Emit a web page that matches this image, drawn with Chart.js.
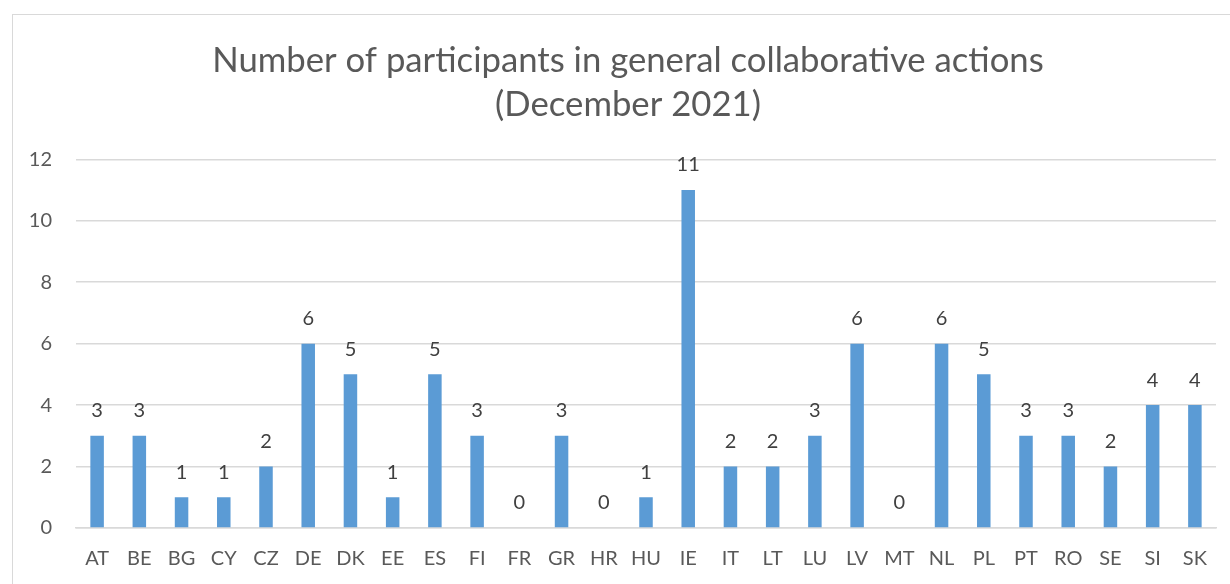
<!DOCTYPE html>
<html>
<head>
    <title>Number of participants</title>
    <script src="https://cdn.jsdelivr.net/npm/chart.js"></script>
    <style>
        body {margin: 0; overflow: hidden; background: #fff;}
        #frame {position: absolute; left: 12px; top: 14px; width: 1300px; height: 700px; border: 1.5px solid #d9d9d9;}
        #chart-container {position: absolute; left: 0; top: 0; width: 1270px; height: 584px;}
    </style>
</head>
<body>
    <div id="frame"></div>
    <div id="chart-container">
        <canvas id="chart" width="1270" height="584"></canvas>
    </div>

<script>
    var countries = ['AT', 'BE', 'BG', 'CY', 'CZ', 'DE', 'DK', 'EE', 'ES', 'FI', 'FR', 'GR', 'HR', 'HU',
                     'IE', 'IT', 'LT', 'LU', 'LV', 'MT', 'NL', 'PL', 'PT', 'RO', 'SE', 'SI', 'SK'];
    var participants = [3, 3, 1, 1, 2, 6, 5, 1, 5, 3, 0, 3, 0, 1, 11, 2, 2, 3, 6, 0, 6, 5, 3, 3, 2, 4, 4];
    var yTicks = [0, 2, 4, 6, 8, 10, 12];
    var titleLines = ['Number of participants in general collaborative actions', '(December 2021)'];

    var fontFamily = 'Lato, "Open Sans", sans-serif';

    // draws the value above each bar (no datalabels plugin offline)
    var valueLabels = {
        id: 'valueLabels',
        afterDatasetsDraw: function(chart) {
            var ctx = chart.ctx;
            var meta = chart.getDatasetMeta(0);
            ctx.save();
            ctx.font = '20px ' + fontFamily;
            ctx.fillStyle = '#404040';
            ctx.textAlign = 'center';
            ctx.textBaseline = 'middle';
            meta.data.forEach(function(bar, i) {
                ctx.fillText(participants[i], bar.x, bar.y - 25);
            });
            ctx.restore();
        }
    };

    var ctx = document.getElementById('chart').getContext('2d');
    var chart = new Chart(ctx, {
        type: 'bar',
        data: {
            labels: countries,
            datasets: [{
                label: 'Participants',
                data: participants,
                backgroundColor: '#5b9bd5',
                barPercentage: 0.32,
                categoryPercentage: 1
            }]
        },
        plugins: [valueLabels],
        options: {
            responsive: false,
            animation: false,
            layout: {
                padding: {left: 0, right: 14, top: 0, bottom: 0}
            },
            plugins: {
                legend: {display: false},
                tooltip: {enabled: false},
                title: {
                    display: true,
                    text: titleLines,
                    color: '#595959',
                    font: {family: fontFamily, size: 34.7, weight: 'normal', lineHeight: 1.25},
                    padding: {top: 39.5, bottom: 33}
                }
            },
            scales: {
                x: {
                    grid: {display: false, drawTicks: false},
                    border: {color: '#d9d9d9', width: 1.5},
                    ticks: {
                        color: '#595959',
                        font: {family: fontFamily, size: 20},
                        padding: 19,
                        maxRotation: 0,
                        autoSkip: false
                    },
                    afterFit: function(scale) { scale.height = 56; }
                },
                y: {
                    min: 0,
                    max: 12,
                    afterBuildTicks: function(scale) {
                        scale.ticks = yTicks.map(function(v) { return {value: v}; });
                    },
                    grid: {color: '#d9d9d9', lineWidth: 1.5, drawTicks: false},
                    border: {display: false},
                    ticks: {
                        color: '#595959',
                        font: {family: fontFamily, size: 20},
                        padding: 24
                    },
                    afterFit: function(scale) { scale.width = 76; }
                },
                // empty right axis, only keeps the title centred like the original frame
                y2: {
                    position: 'right',
                    grid: {display: false, drawTicks: false},
                    border: {display: false},
                    ticks: {display: false},
                    afterFit: function(scale) { scale.width = 40; }
                }
            }
        }
    });
</script>
</body>
</html>
